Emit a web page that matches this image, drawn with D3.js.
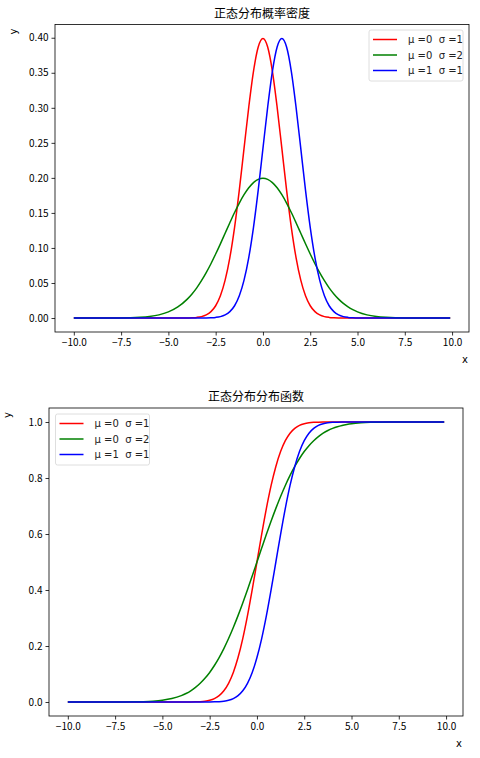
<!DOCTYPE html>
<html>
<head>
<meta charset="utf-8">
<script src="https://cdn.jsdelivr.net/npm/d3@7"></script>
<style>
  body { margin: 0; background: #fff; }
  svg { display: block; }
  .tick text { font-family: "Noto Sans CJK SC", sans-serif; font-size: 10px; fill: #000; }
  .domain, .tick line { stroke: #000; stroke-width: 0.8; }
</style>
</head>
<body>
<div id="chart"></div>
<script>
const xs = [-10, -9, -8, -7, -6.5, -6, -5.5, -5, -4.5,
  -4, -3.75, -3.5, -3.25, -3, -2.75, -2.5, -2.25, -2, -1.75, -1.5, -1.25, -1, -0.75, -0.5, -0.25,
  0, 0.25, 0.5, 0.75, 1, 1.25, 1.5, 1.75, 2, 2.25, 2.5, 2.75, 3, 3.25, 3.5, 3.75, 4, 4.25, 4.5, 4.75, 5,
  5.5, 6, 6.5, 7, 8, 9, 9.9];

// density values (top chart)
const pdfMu0Sd1 = [0, 0, 0, 0, 0, 0, 0, 0, 0,
  0.0001, 0.0004, 0.0009, 0.0020, 0.0044, 0.0091, 0.0175, 0.0317, 0.0540, 0.0863, 0.1295, 0.1826, 0.2420, 0.3011, 0.3521, 0.3867,
  0.3989, 0.3867, 0.3521, 0.3011, 0.2420, 0.1826, 0.1295, 0.0863, 0.0540, 0.0317, 0.0175, 0.0091, 0.0044, 0.0020, 0.0009, 0.0004, 0.0001, 0, 0, 0, 0,
  0, 0, 0, 0, 0, 0, 0];
const pdfMu0Sd2 = [0, 0, 0.0001, 0.0004, 0.0010, 0.0022, 0.0045, 0.0088, 0.0159,
  0.0270, 0.0344, 0.0431, 0.0533, 0.0648, 0.0775, 0.0913, 0.1059, 0.1210, 0.1360, 0.1506, 0.1641, 0.1760, 0.1859, 0.1933, 0.1979,
  0.1995, 0.1979, 0.1933, 0.1859, 0.1760, 0.1641, 0.1506, 0.1360, 0.1210, 0.1059, 0.0913, 0.0775, 0.0648, 0.0533, 0.0431, 0.0344, 0.0270, 0.0209, 0.0159, 0.0119, 0.0088,
  0.0045, 0.0022, 0.0010, 0.0004, 0.0001, 0, 0];
const pdfMu1Sd1 = [0, 0, 0, 0, 0, 0, 0, 0, 0,
  0, 0, 0, 0, 0.0001, 0.0004, 0.0009, 0.0020, 0.0044, 0.0091, 0.0175, 0.0317, 0.0540, 0.0863, 0.1295, 0.1826,
  0.2420, 0.3011, 0.3521, 0.3867, 0.3989, 0.3867, 0.3521, 0.3011, 0.2420, 0.1826, 0.1295, 0.0863, 0.0540, 0.0317, 0.0175, 0.0091, 0.0044, 0.0020, 0.0009, 0.0004, 0.0001,
  0, 0, 0, 0, 0, 0, 0];

// cumulative values (bottom chart)
const cdfMu0Sd1 = [0, 0, 0, 0, 0, 0, 0, 0, 0,
  0, 0.0001, 0.0002, 0.0006, 0.0013, 0.0030, 0.0062, 0.0122, 0.0228, 0.0401, 0.0668, 0.1056, 0.1587, 0.2266, 0.3085, 0.4013,
  0.5, 0.5987, 0.6915, 0.7734, 0.8413, 0.8944, 0.9332, 0.9599, 0.9772, 0.9878, 0.9938, 0.9970, 0.9987, 0.9994, 0.9998, 0.9999, 1, 1, 1, 1, 1,
  1, 1, 1, 1, 1, 1, 1];
const cdfMu0Sd2 = [0, 0, 0, 0.0002, 0.0006, 0.0013, 0.0030, 0.0062, 0.0122,
  0.0228, 0.0304, 0.0401, 0.0521, 0.0668, 0.0846, 0.1056, 0.1303, 0.1587, 0.1908, 0.2266, 0.2660, 0.3085, 0.3538, 0.4013, 0.4503,
  0.5, 0.5497, 0.5987, 0.6462, 0.6915, 0.7340, 0.7734, 0.8092, 0.8413, 0.8697, 0.8944, 0.9154, 0.9332, 0.9479, 0.9599, 0.9696, 0.9772, 0.9832, 0.9878, 0.9912, 0.9938,
  0.9970, 0.9987, 0.9994, 0.9998, 1, 1, 1];
const cdfMu1Sd1 = [0, 0, 0, 0, 0, 0, 0, 0, 0,
  0, 0, 0, 0, 0, 0.0001, 0.0002, 0.0006, 0.0013, 0.0030, 0.0062, 0.0122, 0.0228, 0.0401, 0.0668, 0.1056,
  0.1587, 0.2266, 0.3085, 0.4013, 0.5, 0.5987, 0.6915, 0.7734, 0.8413, 0.8944, 0.9332, 0.9599, 0.9772, 0.9878, 0.9938, 0.9970, 0.9987, 0.9994, 0.9998, 0.9999, 1,
  1, 1, 1, 1, 1, 1, 1];

const seriesLabels = ["\u03bc =0  \u03c3 =1", "\u03bc =0  \u03c3 =2", "\u03bc =1  \u03c3 =1"];
const seriesColors = ["#ff0000", "#008000", "#0000ff"];
const xTicks = [-10, -7.5, -5, -2.5, 0, 2.5, 5, 7.5, 10];
const pdfTicks = [0, 0.05, 0.10, 0.15, 0.20, 0.25, 0.30, 0.35, 0.40];
const cdfTicks = [0, 0.2, 0.4, 0.6, 0.8, 1.0];

const width = 480, height = 758;
const svg = d3.select("#chart").append("svg")
  .attr("width", width).attr("height", height);

function drawPanel(opt) {
  const { box, title, yDomain, yTicks, yFmt, series, legend } = opt;

  const x = d3.scaleLinear().domain([-10.995, 10.895]).range([box.left, box.right]);
  const y = d3.scaleLinear().domain(yDomain).range([box.bottom, box.top]);

  const g = svg.append("g");

  // x axis
  g.append("g")
    .attr("transform", `translate(0,${box.bottom})`)
    .call(d3.axisBottom(x).tickValues(xTicks).tickSize(3.5).tickPadding(3).tickFormat(d3.format(".1f")))
    .call(a => a.select(".domain").remove());

  // y axis
  g.append("g")
    .attr("transform", `translate(${box.left},0)`)
    .call(d3.axisLeft(y).tickValues(yTicks).tickSize(3.5).tickPadding(3).tickFormat(d3.format(yFmt)))
    .call(a => a.select(".domain").remove());

  // curves
  const line = d3.line()
    .x((d, i) => x(xs[i]))
    .y(d => y(d))
    .curve(d3.curveMonotoneX);

  series.forEach((vals, i) => {
    g.append("path")
      .attr("d", line(vals))
      .attr("fill", "none")
      .attr("stroke", seriesColors[i])
      .attr("stroke-width", 1.5);
  });

  // frame
  g.append("rect")
    .attr("x", box.left).attr("y", box.top)
    .attr("width", box.right - box.left).attr("height", box.bottom - box.top)
    .attr("fill", "none").attr("stroke", "#000").attr("stroke-width", 0.8);

  // title
  g.append("text")
    .attr("x", (box.left + box.right) / 2).attr("y", box.top - 7)
    .attr("text-anchor", "middle")
    .style("font-family", "'Noto Sans CJK SC', sans-serif")
    .style("font-size", "12px")
    .text(title);

  // axis labels
  g.append("text")
    .attr("transform", `translate(${box.left - 38},${box.top + 4}) rotate(-90)`)
    .attr("text-anchor", "end")
    .style("font-family", "'DejaVu Sans', sans-serif")
    .style("font-size", "10px")
    .text("y");
  g.append("text")
    .attr("x", box.right - 4).attr("y", box.bottom + 31)
    .attr("text-anchor", "middle")
    .style("font-family", "'DejaVu Sans', sans-serif")
    .style("font-size", "10px")
    .text("x");

  // legend
  const lg = g.append("g").attr("transform", `translate(${legend.x},${legend.y})`);
  lg.append("rect")
    .attr("width", 94).attr("height", 51).attr("rx", 2)
    .attr("fill", "#fff").attr("fill-opacity", 0.8)
    .attr("stroke", "#d6d6d6").attr("stroke-width", 0.8);
  seriesLabels.forEach((lab, i) => {
    const yy = 9.5 + i * 15.5;
    lg.append("line")
      .attr("x1", 4).attr("x2", 28).attr("y1", yy).attr("y2", yy)
      .attr("stroke", seriesColors[i]).attr("stroke-width", 1.5);
    lg.append("text")
      .attr("x", 39).attr("y", yy + 3.5)
      .style("white-space", "pre")
      .style("font-family", "'DejaVu Sans', sans-serif")
      .style("font-size", "10px")
      .style("fill", "#222")
      .text(lab);
  });
}

drawPanel({
  box: { left: 55, right: 469, top: 24.5, bottom: 332 },
  title: "正态分布概率密度",
  yDomain: [-0.01995, 0.4189],
  yTicks: pdfTicks,
  yFmt: ".2f",
  series: [pdfMu0Sd1, pdfMu0Sd2, pdfMu1Sd1],
  legend: { x: 369, y: 30 }
});

drawPanel({
  box: { left: 49, right: 463, top: 408, bottom: 716 },
  title: "正态分布分布函数",
  yDomain: [-0.05, 1.05],
  yTicks: cdfTicks,
  yFmt: ".1f",
  series: [cdfMu0Sd1, cdfMu0Sd2, cdfMu1Sd1],
  legend: { x: 55.5, y: 414 }
});
</script>
</body>
</html>
